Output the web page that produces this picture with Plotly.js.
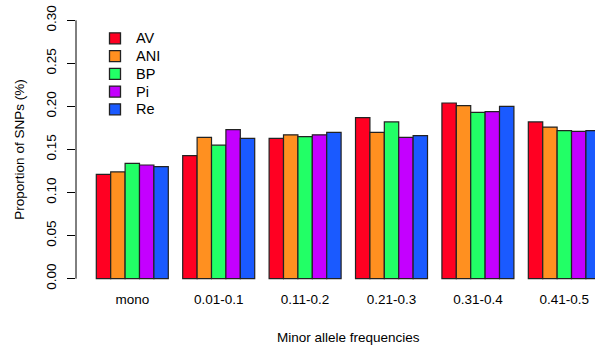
<!DOCTYPE html>
<html>
<head>
<meta charset="utf-8">
<script src="https://cdn.plot.ly/plotly-3.0.1.min.js"></script>
<style>html,body{margin:0;padding:0;background:#fff;}#chart{width:595px;height:346px;}</style>
</head>
<body>
<div id="chart"></div>
<script>
// Data
const categories = ["mono", "0.01-0.1", "0.11-0.2", "0.21-0.3", "0.31-0.4", "0.41-0.5"];
const seriesNames = ["AV", "ANI", "BP", "Pi", "Re"];
const AV  = [0.121, 0.143, 0.163, 0.187, 0.204, 0.182];
const ANI = [0.124, 0.164, 0.167, 0.170, 0.201, 0.176];
const BP  = [0.134, 0.155, 0.165, 0.182, 0.193, 0.172];
const Pi  = [0.132, 0.173, 0.167, 0.164, 0.194, 0.171];
const Re  = [0.130, 0.163, 0.170, 0.166, 0.200, 0.172];
const yTickVals = [0, 0.05, 0.10, 0.15, 0.20, 0.25, 0.30];
const yTickText = ["0.00", "0.05", "0.10", "0.15", "0.20", "0.25", "0.30"];
const xTitle = "Minor allele frequencies";
const yTitle = "Proportion of SNPs (%)";

const seriesValues = [AV, ANI, BP, Pi, Re];
const colors = ["#ff0022", "#ff9020", "#22ff66", "#c400ff", "#1a5aff"];
const FONT = "Liberation Sans, Arial, Helvetica, sans-serif";
const FS = 13.5;

// plot area geometry (pixels) used for the hand-placed legend and x title
const W = 595, H = 346;
const M = {l: 76, r: 0, t: 10, b: 57};
const PW = W - M.l - M.r, PH = H - M.t - M.b;
const px2x = px => (px - M.l) / PW;
const px2y = py => (H - M.b - py) / PH;

const traces = seriesNames.map((name, i) => ({
  type: "bar",
  name: name,
  x: categories,
  y: seriesValues[i],
  marker: {color: colors[i], line: {color: "#222222", width: 1.2}},
  showlegend: false,
  hoverinfo: "x+y+name"
}));

// legend (boxes + labels), one row per series
const legendTop = 38.3, legendStep = 17.75, boxCx = 115, boxHalf = 5.5, textX = 134;
const shapes = [{
  type: "line", xref: "paper", yref: "y",
  x0: 0, x1: 0, y0: 0, y1: 0.30,
  line: {color: "#000000", width: 1}
}];
const annotations = [];
seriesNames.forEach((name, i) => {
  const cy = legendTop + i * legendStep;
  shapes.push({
    type: "rect", xref: "paper", yref: "paper",
    x0: px2x(boxCx - boxHalf), x1: px2x(boxCx + boxHalf),
    y0: px2y(cy + boxHalf), y1: px2y(cy - boxHalf),
    fillcolor: colors[i], line: {color: "#222222", width: 1.3}
  });
  annotations.push({
    xref: "paper", yref: "paper", x: px2x(textX), y: px2y(cy),
    xanchor: "left", yanchor: "middle", showarrow: false,
    text: name, font: {family: FONT, size: 14.5, color: "#000000"}
  });
});
// x axis title, centred as in the original (on the full R plot region)
annotations.push({
  xref: "paper", yref: "paper", x: px2x(348), y: px2y(337),
  xanchor: "center", yanchor: "middle", showarrow: false,
  text: xTitle, font: {family: FONT, size: FS, color: "#000000"}
});

const layout = {
  width: W,
  height: H,
  margin: {l: M.l, r: M.r, t: M.t, b: M.b, pad: 0},
  paper_bgcolor: "#ffffff",
  plot_bgcolor: "#ffffff",
  font: {family: FONT, size: FS, color: "#000000"},
  barmode: "group",
  bargap: 1/6,
  bargroupgap: 0,
  showlegend: false,
  xaxis: {
    type: "category",
    range: [-0.6516, 5.355],
    showline: false,
    showgrid: false,
    zeroline: false,
    ticks: "",
    ticklabelstandoff: 0,
    tickfont: {family: FONT, size: FS}
  },
  yaxis: {
    range: [-0.012, 0.312],
    tickvals: yTickVals,
    ticktext: yTickText,
    tickangle: -90,
    ticks: "outside",
    ticklen: 8,
    tickwidth: 1,
    tickcolor: "#000000",
    ticklabelstandoff: 6,
    showline: false,
    showgrid: false,
    zeroline: false,
    tickfont: {family: FONT, size: FS},
    title: {text: yTitle, font: {family: FONT, size: FS}, standoff: 15}
  },
  shapes: shapes,
  annotations: annotations
};

Plotly.newPlot("chart", traces, layout, {staticPlot: true, displayModeBar: false});
</script>
</body>
</html>
